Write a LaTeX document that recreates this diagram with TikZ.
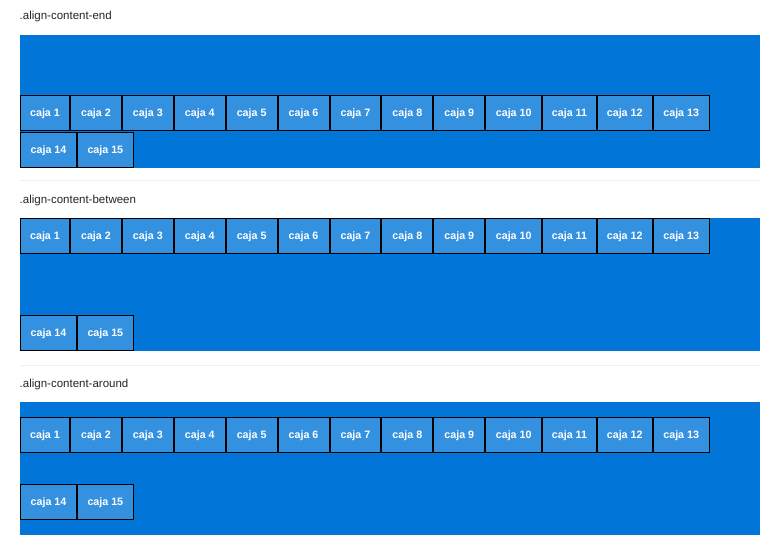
\documentclass[tikz,border=0pt]{standalone}
\usepackage{fontspec}
\setmainfont{Liberation Sans}
\usepackage{xcolor}
\usepackage{tikz}
\usetikzlibrary{positioning}

\definecolor{azul}{HTML}{0275D8}
\definecolor{cajaazul}{HTML}{3491E0}
\definecolor{tinta}{HTML}{212529}
\definecolor{raya}{HTML}{ECEEEF}

\begin{document}
\begin{tikzpicture}[x=1pt, y=-1pt, node distance=1pt,
  caja/.style={draw=black, line width=1pt, fill=cajaazul, text=white,
    font=\bfseries\fontsize{10.7}{12}\selectfont, text height=7.7pt, text depth=0pt,
    minimum width=#1, minimum height=35pt, inner sep=0pt, outer sep=0pt},
  caja/.default=50.9pt,
  fondo/.style={fill=azul, anchor=north west, minimum width=740pt, minimum height=133pt,
    inner sep=0pt, outer sep=0pt},
  titulo/.style={anchor=base west, inner sep=0pt, text=tinta, font=\fontsize{11.5}{13}\selectfont}]

\useasboundingbox (0,0) rectangle (781,556);

% Separators between the three examples
\draw[raya, line width=1pt] (20,181) -- (760,181);
\draw[raya, line width=1pt] (20,365) -- (760,365);

\foreach \p/\nombre/\yt/\yf/\ya/\yb in {
    a/end/19.5/35/113/150,
    b/between/203.5/218/236/333,
    c/around/387/402/435/502} {

  % Title and container
  \node[titulo] (titulo\p) at (19.5,\yt) {.align-content-\nombre};
  \node[fondo] (fondo\p) at (20,\yf) {};

  % First line of boxes
  \node[caja=49pt, anchor=west] (\p1) at (20.5,\ya) {caja 1};
  \foreach \i/\w [remember=\i as \j (initially 1)] in
      {2/50.9,3/50.9,4/50.9,5/50.9,6/50.9,7/50.9,8/50.9,9/50.9,
       10/56,11/53.5,12/55,13/56} {
    \node[caja=\w pt, right=of \p\j] (\p\i) {caja \i};
  }

  % Second line
  \node[caja=56pt, anchor=west] (\p14) at (20.5,\yb) {caja 14};
  \node[caja=55.7pt, right=of \p14] (\p15) {caja 15};
}

\end{tikzpicture}
\end{document}
